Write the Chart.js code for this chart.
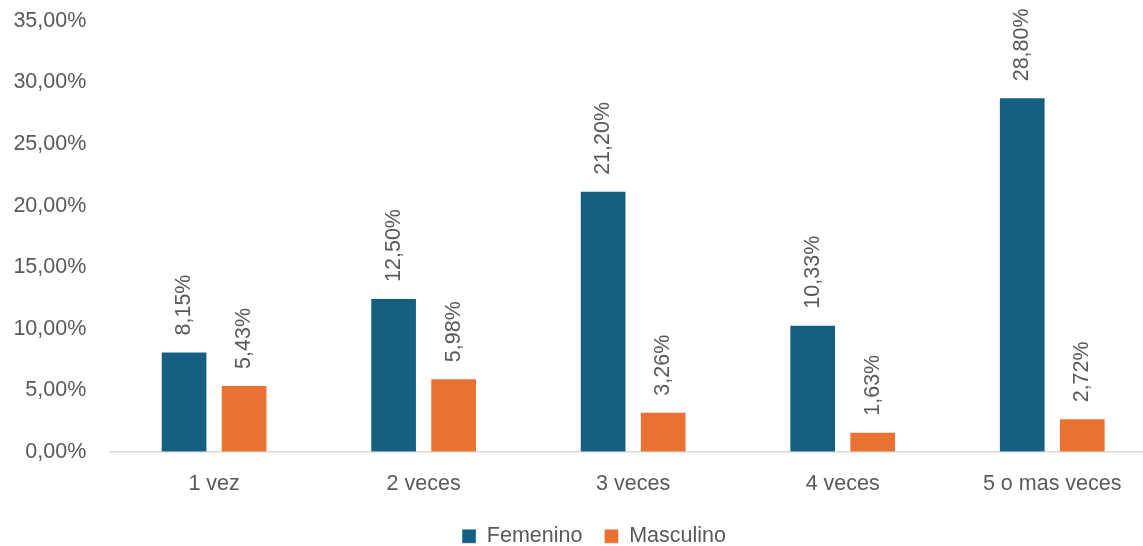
<!DOCTYPE html>
<html lang="es">
<head>
<meta charset="utf-8">
<title>Frecuencia por sexo</title>
<script src="https://cdn.jsdelivr.net/npm/chart.js@4.4.1/dist/chart.umd.min.js"></script>
<style>
  html, body { margin: 0; padding: 0; overflow: hidden; background: #ffffff; }
  #wrap { position: relative; width: 1188px; height: 557px; }
</style>
</head>
<body>
<div id="wrap"><canvas id="chart" width="1188" height="557"></canvas></div>
<script>
// Categories and series values (percent)
const categories = ['1 vez', '2 veces', '3 veces', '4 veces', '5 o mas veces'];
const femenino = [8.15, 12.50, 21.20, 10.33, 28.80];
const masculino = [5.43, 5.98, 3.26, 1.63, 2.72];
const seriesNames = ['Femenino', 'Masculino'];
const yTicks = [0, 5, 10, 15, 20, 25, 30, 35];

const BLUE = '#156082';
const ORANGE = '#E97132';
const TEXT = '#595959';
const FONT_FAMILY = '"Liberation Sans", Arial, sans-serif';
const FONT_SIZE = 21.5;

const fmtPct = v => v.toFixed(2).replace('.', ',') + '%';

// Rotated value labels above every bar
const valueLabels = {
  id: 'valueLabels',
  afterDatasetsDraw(chart) {
    const { ctx } = chart;
    ctx.save();
    ctx.font = `${FONT_SIZE}px ${FONT_FAMILY}`;
    ctx.fillStyle = TEXT;
    ctx.textAlign = 'left';
    ctx.textBaseline = 'middle';
    chart.data.datasets.forEach((ds, di) => {
      const meta = chart.getDatasetMeta(di);
      meta.data.forEach((bar, i) => {
        ctx.save();
        ctx.translate(bar.x, bar.y - 16);
        ctx.rotate(-Math.PI / 2);
        ctx.fillText(fmtPct(ds.data[i]), 0, 0);
        ctx.restore();
      });
    });
    ctx.restore();
  }
};

// Centre the legend across the whole canvas width
const legendSpan = {
  id: 'legendSpan',
  afterLayout(chart) {
    const lg = chart.legend;
    if (!lg) return;
    lg.left = 0;
    lg.right = chart.width;
    lg.width = chart.width;
  }
};

new Chart(document.getElementById('chart'), {
  type: 'bar',
  data: {
    labels: categories,
    datasets: [
      {
        label: seriesNames[0],
        data: femenino,
        backgroundColor: BLUE,
        borderColor: 'rgba(255,255,255,0.35)',
        borderWidth: 1,
        categoryPercentage: 0.573,
        barPercentage: 0.778
      },
      {
        label: seriesNames[1],
        data: masculino,
        backgroundColor: ORANGE,
        borderColor: 'rgba(255,255,255,0.35)',
        borderWidth: 1,
        categoryPercentage: 0.573,
        barPercentage: 0.778
      }
    ]
  },
  options: {
    responsive: false,
    animation: false,
    layout: { padding: { top: 21, right: 31, left: 0, bottom: 0 } },
    plugins: {
      tooltip: { enabled: false },
      legend: {
        position: 'bottom',
        align: 'center',
        labels: {
          color: TEXT,
          font: { family: FONT_FAMILY, size: FONT_SIZE },
          boxWidth: 14,
          boxHeight: 14,
          padding: 22
        }
      }
    },
    scales: {
      x: {
        grid: { display: false, drawTicks: false },
        border: { display: true, color: '#D9D9D9', width: 1.5 },
        ticks: {
          color: TEXT,
          font: { family: FONT_FAMILY, size: FONT_SIZE },
          padding: 19,
          maxRotation: 0
        },
        afterFit(scale) { scale.height = 51.7; }
      },
      y: {
        min: 0,
        max: 35,
        grid: { display: false, drawTicks: false },
        border: { display: false },
        afterBuildTicks(scale) { scale.ticks = yTicks.map(v => ({ value: v })); },
        ticks: {
          color: TEXT,
          font: { family: FONT_FAMILY, size: FONT_SIZE },
          padding: 23,
          callback: v => fmtPct(v)
        },
        afterFit(scale) {
          scale.width = 109.3;
          scale.paddingTop = 0;
          scale.paddingBottom = 0;
        }
      }
    }
  },
  plugins: [valueLabels, legendSpan]
});
</script>
</body>
</html>
